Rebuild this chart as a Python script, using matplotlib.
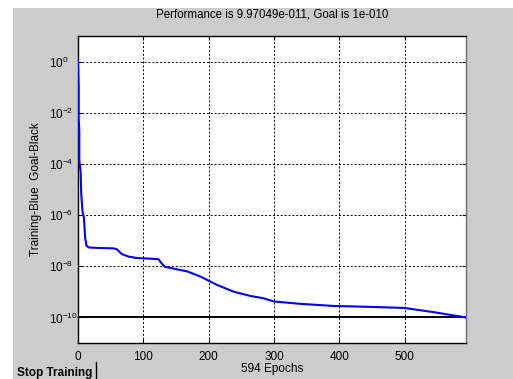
import matplotlib.pyplot as plt
import matplotlib.patches as mpatches
import matplotlib.lines as mlines

plt.rcParams['font.family'] = ['Liberation Sans', 'DejaVu Sans']
plt.rcParams['mathtext.fontset'] = 'custom'
plt.rcParams['mathtext.rm'] = 'Liberation Sans Narrow'
plt.rcParams['mathtext.default'] = 'regular'

# Training record
epochs = [0, 1, 1, 2, 2, 4, 5, 7, 9, 11, 13, 17, 30, 54, 59, 67, 77, 90, 123,
          128, 133, 167, 187, 213, 238, 264, 284, 300, 340, 392, 443, 499, 545, 594]
perf = [1.0, 1e-1, 6.3e-3, 2e-3, 1.26e-4, 5e-5, 6.3e-6, 1.26e-6, 8e-7, 1.26e-7,
        6.3e-8, 5.4e-8, 5.2e-8, 5e-8, 4.7e-8, 3e-8, 2.4e-8, 2.1e-8, 1.9e-8,
        1.3e-8, 9.5e-9, 6.3e-9, 4e-9, 1.86e-9, 1.02e-9, 6.9e-10, 5.6e-10, 4.2e-10,
        3.4e-10, 2.8e-10, 2.6e-10, 2.35e-10, 1.6e-10, 9.97049e-11]
goal = 1e-10
n_epochs = 594

xticks = [0, 100, 200, 300, 400, 500]
yticks = [1e0, 1e-2, 1e-4, 1e-6, 1e-8, 1e-10]
ytick_labels = ['$10^{0}$', '$10^{-2}$', '$10^{-4}$', '$10^{-6}$', '$10^{-8}$', '$10^{-10}$']

fig = plt.figure(figsize=(5.13, 3.79), dpi=100, facecolor='white')
# gray figure panel (white strip on left/top like the screenshot)
fig.patches.append(mpatches.Rectangle((13/513, 0), 1, 1 - 8/379, transform=fig.transFigure,
                                      facecolor='#cccccc', edgecolor='none', zorder=-10))

ax = fig.add_axes([78/513, 1 - 343/379, (466 - 78)/513, (343 - 36)/379])
ax.set_facecolor('white')

ax.semilogy(epochs, perf, color='#0000ff', lw=1.5, zorder=3)
ax.axhline(goal, color='black', lw=1.4, zorder=2)

ax.set_xlim(0, n_epochs)
ax.set_ylim(1e-11, 1e1)
ax.set_xticks(xticks)
ax.set_yticks(yticks)
ax.set_yticklabels(ytick_labels)
ax.minorticks_off()
ax.grid(True, color='black', ls=(0, (2, 2)), lw=0.7)
ax.tick_params(direction='in', top=True, right=True, length=3, colors='black')
ax.tick_params(axis='x', pad=6)
ax.tick_params(axis='y', pad=21)
for lab in ax.get_xticklabels():
    lab.set_family(['Liberation Sans Narrow', 'Liberation Sans'])
    lab.set_fontsize(8.5)
for lab in ax.get_yticklabels():
    lab.set_fontsize(8.5)
    lab.set_ha('left')

for s in ax.spines.values():
    s.set_color('black')
    s.set_linewidth(1.0)
ax.spines['right'].set_color('#707070')

ax.set_title('Performance is 9.97049e-011, Goal is 1e-010', fontsize=8.3, pad=13.5)
ax.set_xlabel('%d Epochs' % n_epochs, fontsize=8.5, labelpad=0)
ax.set_ylabel('Training-Blue  Goal-Black', fontsize=8.5)
ax.yaxis.set_label_coords((42 - 78) / 388, 0.5)

# Stop Training button
fig.text(17/513, 1 - 373/379, 'Stop Training', fontsize=8.5, fontweight='bold', va='center', ha='left')
fig.lines.append(mlines.Line2D([96/513, 96/513], [0, 1 - 362/379], transform=fig.transFigure,
                               color='black', lw=1))

fig.savefig('out.png', dpi=100, facecolor=fig.get_facecolor())
